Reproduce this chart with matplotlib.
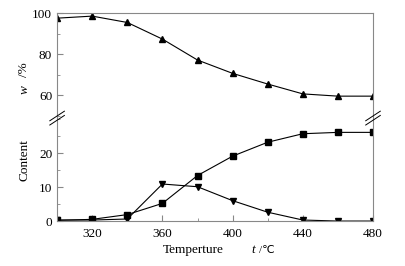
import matplotlib
matplotlib.use('Agg')
import matplotlib.pyplot as plt
from matplotlib.ticker import MultipleLocator

plt.rcParams['font.family'] = ['Liberation Serif', 'DejaVu Sans']
plt.rcParams['font.size'] = 9.5

# data
temps = [300, 320, 340, 360, 380, 400, 420, 440, 460, 480]
upper_tri = [97.5, 98.5, 95.4, 87.3, 77.1, 70.6, 65.4, 60.6, 59.5, 59.5]
squares = [0.2, 0.5, 1.9, 5.2, 13.4, 19.1, 23.2, 25.7, 26.1, 26.1]
down_tri = [0.3, 0.3, 0.6, 10.9, 10.1, 6.0, 2.6, 0.3, 0.0, 0.0]

fig = plt.figure(figsize=(4.05, 2.66), dpi=100)
ax_top = fig.add_axes([0.141, 0.556, 0.78, 0.395])
ax_bot = fig.add_axes([0.141, 0.169, 0.78, 0.387])

spine_col = '#888888'
line_kw = dict(color='black', lw=0.8, markersize=4)

ax_top.plot(temps, upper_tri, marker='^', **line_kw)
ax_bot.plot(temps, squares, marker='s', **line_kw)
ax_bot.plot(temps, down_tri, marker='v', **line_kw)

for ax in (ax_top, ax_bot):
    ax.set_xlim(300, 480)
    ax.xaxis.set_major_locator(MultipleLocator(40))
    ax.xaxis.set_minor_locator(MultipleLocator(20))
    ax.tick_params(which='both', direction='in', top=False, right=False,
                   color=spine_col)
    ax.tick_params(which='major', length=4)
    ax.tick_params(which='minor', length=2.5)
    ax.tick_params(axis='x', pad=5)
    for s in ax.spines.values():
        s.set_color(spine_col)
        s.set_linewidth(0.8)

ax_top.set_ylim(48.8, 100)
ax_top.set_yticks([60, 80, 100])
ax_top.yaxis.set_minor_locator(MultipleLocator(10))
ax_top.spines['bottom'].set_visible(False)
ax_top.tick_params(which='both', bottom=False, labelbottom=False)

ax_bot.set_ylim(0, 30.3)
ax_bot.set_yticks([0, 10, 20])
ax_bot.yaxis.set_minor_locator(MultipleLocator(5))
ax_bot.spines['top'].set_visible(False)
ax_bot.set_xticks([320, 360, 400, 440, 480])

# break marks on both sides
for xf in (0.141, 0.921):
    for dy in (-0.008, 0.008):
        fig.add_artist(plt.Line2D([xf - 0.018, xf + 0.018],
                                  [0.556 + dy - 0.018, 0.556 + dy + 0.018],
                                  color='black', lw=0.7))

# y label pieces
fig.text(0.06, 0.40, 'Content', rotation=90, ha='center', va='center')
fig.text(0.06, 0.665, 'w', rotation=90, ha='center', va='center', style='italic')
fig.text(0.06, 0.74, '/%', rotation=90, ha='center', va='center')

# x label pieces
fig.text(0.477, 0.06, 'Temperture', ha='center', va='center')
fig.text(0.625, 0.06, 't', ha='center', va='center', style='italic')
fig.text(0.658, 0.06, '/℃', ha='center', va='center', fontsize=8)

fig.savefig('out.png', dpi=100)
